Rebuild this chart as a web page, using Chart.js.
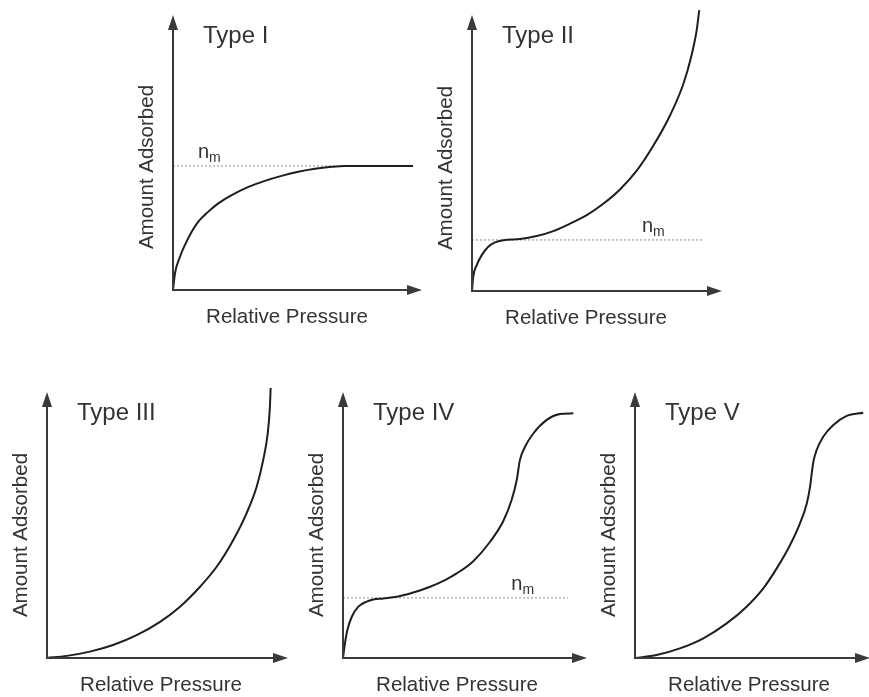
<!DOCTYPE html>
<html lang="en">
<head>
  <meta charset="UTF-8">
  <title>Adsorption Isotherm Types</title>
  <script src="https://cdn.jsdelivr.net/npm/chart.js"></script>
  <style>
    body {
      margin: 0;
      background: #ffffff;
      overflow: hidden;
      font-family: 'Liberation Sans', Arial, sans-serif;
    }
    #page {
      position: relative;
      width: 869px;
      height: 697px;
    }
    .panel {
      position: absolute;
    }
  </style>
</head>
<body>

<div id="page"></div>

<script>
  // Relative pressure as a fraction of the x-axis length,
  // amount adsorbed as a fraction of the y-axis height
  const typeIPressure = [0, 0.008, 0.028, 0.048, 0.075, 0.101, 0.142, 0.182, 0.236, 0.303, 0.369, 0.436, 0.503, 0.57, 0.637, 0.69, 0.8, 0.964];
  const typeIAmount   = [0, 0.061, 0.121, 0.164, 0.212, 0.248, 0.285, 0.315, 0.345, 0.375, 0.397, 0.415, 0.43, 0.441, 0.448, 0.451, 0.451, 0.451];
  const typeINm = 0.451;

  const typeIIPressure = [0, 0.005, 0.019, 0.039, 0.065, 0.092, 0.125, 0.192, 0.259, 0.325, 0.392, 0.459, 0.525, 0.592, 0.659, 0.725, 0.792, 0.845, 0.879, 0.899, 0.909];
  const typeIIAmount   = [0, 0.052, 0.094, 0.13, 0.16, 0.176, 0.184, 0.188, 0.199, 0.217, 0.244, 0.275, 0.316, 0.368, 0.436, 0.526, 0.636, 0.749, 0.857, 0.946, 1.018];
  const typeIINm = 0.185;

  const typeIIIPressure = [0, 0.082, 0.178, 0.274, 0.372, 0.469, 0.552, 0.635, 0.704, 0.773, 0.828, 0.87, 0.897, 0.916, 0.925, 0.928];
  const typeIIIAmount   = [0, 0.008, 0.024, 0.049, 0.086, 0.136, 0.193, 0.268, 0.343, 0.444, 0.544, 0.644, 0.744, 0.845, 0.945, 1.015];

  const typeIVPressure = [0, 0.008, 0.018, 0.036, 0.063, 0.097, 0.124, 0.165, 0.22, 0.288, 0.357, 0.42, 0.466, 0.534, 0.602, 0.657, 0.691, 0.712, 0.725, 0.746, 0.78, 0.835, 0.889, 0.944];
  const typeIVAmount   = [0, 0.055, 0.105, 0.155, 0.193, 0.212, 0.22, 0.224, 0.23, 0.246, 0.268, 0.294, 0.318, 0.364, 0.436, 0.515, 0.594, 0.669, 0.744, 0.794, 0.844, 0.895, 0.917, 0.92];
  const typeIVNm = 0.226;

  const typeVPressure = [0, 0.092, 0.191, 0.291, 0.39, 0.475, 0.546, 0.603, 0.66, 0.702, 0.731, 0.745, 0.752, 0.759, 0.773, 0.801, 0.844, 0.901, 0.971];
  const typeVAmount   = [0, 0.011, 0.036, 0.074, 0.13, 0.193, 0.262, 0.337, 0.425, 0.506, 0.581, 0.644, 0.694, 0.738, 0.782, 0.832, 0.876, 0.91, 0.922];

  // origin x, origin y, x-arrow tip, y-arrow tip (page pixels)
  const panels = [
    { title: 'Type I',   p: typeIPressure,   a: typeIAmount,   nm: typeINm,   nmEnd: 0.964, nmLabel: 0.1,  box: [173, 290, 422, 15] },
    { title: 'Type II',  p: typeIIPressure,  a: typeIIAmount,  nm: typeIINm,  nmEnd: 0.92,  nmLabel: 0.68, box: [472, 291, 722, 15] },
    { title: 'Type III', p: typeIIIPressure, a: typeIIIAmount, nm: null,      nmEnd: 0,     nmLabel: 0,    box: [47, 658, 288, 392] },
    { title: 'Type IV',  p: typeIVPressure,  a: typeIVAmount,  nm: typeIVNm,  nmEnd: 0.922, nmLabel: 0.69, box: [343, 658, 587, 392] },
    { title: 'Type V',   p: typeVPressure,   a: typeVAmount,   nm: null,      nmEnd: 0,     nmLabel: 0,    box: [635, 658, 870, 392] }
  ];

  const PAD = { left: 45, top: 15, right: 10, bottom: 40 };
  const FONT = '"Liberation Sans", Arial, sans-serif';

  // Draws the arrowed axes and all the labels
  const isothermDecor = {
    id: 'isothermDecor',
    afterDraw(chart, args, opts) {
      const { ctx, scales: { x, y } } = chart;
      const x0 = x.getPixelForValue(0), x1 = x.getPixelForValue(1);
      const y0 = y.getPixelForValue(0), y1 = y.getPixelForValue(1);

      ctx.save();
      ctx.strokeStyle = '#3a3a3a';
      ctx.fillStyle = '#3a3a3a';
      ctx.lineWidth = 2;
      ctx.beginPath();
      ctx.moveTo(x0, y0);
      ctx.lineTo(x0, y1 + 10);
      ctx.moveTo(x0 - 1, y0);
      ctx.lineTo(x1 - 10, y0);
      ctx.stroke();

      ctx.beginPath();
      ctx.moveTo(x0, y1);
      ctx.lineTo(x0 - 5, y1 + 15);
      ctx.lineTo(x0 + 5, y1 + 15);
      ctx.closePath();
      ctx.fill();

      ctx.beginPath();
      ctx.moveTo(x1, y0);
      ctx.lineTo(x1 - 15, y0 - 5);
      ctx.lineTo(x1 - 15, y0 + 5);
      ctx.closePath();
      ctx.fill();

      ctx.fillStyle = '#333333';
      ctx.textBaseline = 'alphabetic';
      ctx.textAlign = 'left';
      ctx.font = '24px ' + FONT;
      ctx.fillText(opts.title, x0 + 30, y1 + 28);

      ctx.font = '20.5px ' + FONT;
      ctx.textAlign = 'center';
      ctx.fillText('Relative Pressure', x0 + 114, y0 + 33);

      ctx.save();
      ctx.translate(x0 - 26, y0 - 123);
      ctx.rotate(-Math.PI / 2);
      ctx.textBaseline = 'middle';
      ctx.fillText('Amount Adsorbed', 0, 0);
      ctx.restore();

      if (opts.nm !== null) {
        const lx = x.getPixelForValue(opts.nmLabel);
        const ly = y.getPixelForValue(opts.nm) - 8;
        ctx.textAlign = 'left';
        ctx.font = '20px ' + FONT;
        ctx.fillText('n', lx, ly);
        const w = ctx.measureText('n').width;
        ctx.font = '14px ' + FONT;
        ctx.fillText('m', lx + w, ly + 4);
      }
      ctx.restore();
    }
  };

  const page = document.getElementById('page');

  panels.forEach(function (panel) {
    const [ox, oy, tx, ty] = panel.box;
    const div = document.createElement('div');
    div.className = 'panel';
    div.style.left = (ox - PAD.left) + 'px';
    div.style.top = (ty - PAD.top) + 'px';
    div.style.width = (tx - ox + PAD.left + PAD.right) + 'px';
    div.style.height = (oy - ty + PAD.top + PAD.bottom) + 'px';
    const canvas = document.createElement('canvas');
    div.appendChild(canvas);
    page.appendChild(div);

    const datasets = [{
      data: panel.p.map((v, i) => ({ x: v, y: panel.a[i] })),
      borderColor: '#1e1e1e',
      borderWidth: 2,
      pointRadius: 0,
      cubicInterpolationMode: 'monotone',
      clip: false,
      order: 0
    }];

    if (panel.nm !== null) {
      datasets.push({
        data: [{ x: 0, y: panel.nm }, { x: panel.nmEnd, y: panel.nm }],
        borderColor: '#8a8a8a',
        borderWidth: 1,
        borderDash: [2, 2],
        pointRadius: 0,
        clip: false,
        order: 1
      });
    }

    new Chart(canvas.getContext('2d'), {
      type: 'line',
      data: { datasets: datasets },
      options: {
        responsive: true,
        maintainAspectRatio: false,
        animation: false,
        layout: { padding: PAD },
        scales: {
          x: { type: 'linear', min: 0, max: 1, display: false },
          y: { type: 'linear', min: 0, max: 1, display: false }
        },
        plugins: {
          legend: { display: false },
          tooltip: { enabled: false },
          isothermDecor: {
            title: panel.title,
            nm: panel.nm,
            nmLabel: panel.nmLabel
          }
        }
      },
      plugins: [isothermDecor]
    });
  });
</script>

</body>
</html>
